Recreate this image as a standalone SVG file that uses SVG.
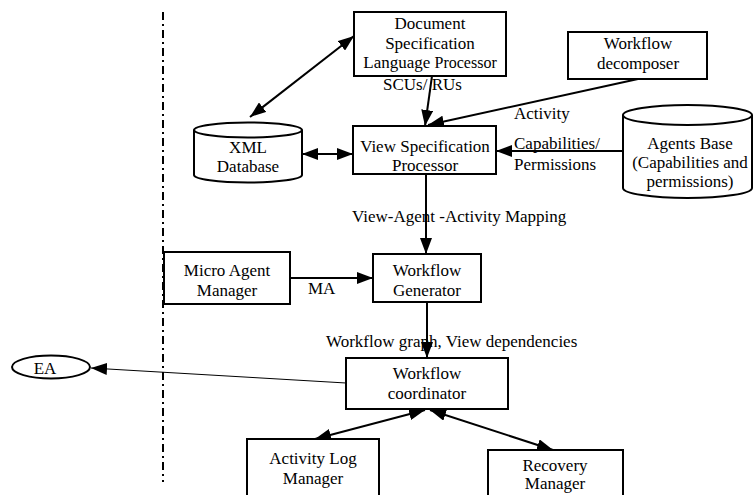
<svg xmlns="http://www.w3.org/2000/svg" width="755" height="495" viewBox="0 0 755 495">
<defs>
<style>
.box{fill:#fff;stroke:#000;stroke-width:2}
.cyl{fill:#fff;stroke:#000;stroke-width:2}
text{font-family:"Liberation Serif","Times New Roman",serif;font-size:17px;fill:#000}
.c{text-anchor:middle}
.ln{fill:none;stroke:#000;stroke-width:2}
.thin{fill:none;stroke:#000;stroke-width:1}
</style>
<marker id="ah" markerUnits="userSpaceOnUse" viewBox="0 0 16 12" refX="16" refY="6" markerWidth="16" markerHeight="12" orient="auto-start-reverse">
<path d="M0,0 L16,6 L0,12 Z" fill="#000"/>
</marker>
</defs>
<rect width="755" height="495" fill="#fff"/>
<line x1="163" y1="12" x2="163" y2="482" stroke="#000" stroke-width="2" stroke-dasharray="8 4 2 4"/>

<g id="connectors">
<line class="ln" x1="250" y1="117" x2="354" y2="36" marker-start="url(#ah)" marker-end="url(#ah)"/>
<line class="ln" x1="302" y1="154" x2="353" y2="154" marker-start="url(#ah)" marker-end="url(#ah)"/>
<line class="ln" x1="432" y1="76" x2="425" y2="126" marker-end="url(#ah)"/>
<line class="ln" x1="638" y1="79" x2="428" y2="125" marker-end="url(#ah)"/>
<line class="ln" x1="623" y1="151" x2="496" y2="151" marker-end="url(#ah)"/>
<line class="ln" x1="426" y1="174" x2="426" y2="254" marker-end="url(#ah)"/>
<line class="ln" x1="290" y1="278" x2="373" y2="278" marker-end="url(#ah)"/>
<line class="ln" x1="427" y1="302" x2="427" y2="358" marker-end="url(#ah)"/>
<line class="thin" x1="346" y1="383" x2="91" y2="368" marker-end="url(#ah)"/>
<line class="ln" x1="315" y1="439" x2="425" y2="410" marker-start="url(#ah)" marker-end="url(#ah)"/>
<line class="ln" x1="553" y1="450" x2="430" y2="410" marker-start="url(#ah)" marker-end="url(#ah)"/>
<text x="383" y="90">SCUs/ RUs</text>
<text x="514" y="119">Activity</text>
<text x="514" y="149">Capabilities/</text>
<text x="514" y="170">Permissions</text>
<text x="352" y="222">View-Agent -Activity Mapping</text>
<text x="308" y="294">MA</text>
<text x="326" y="347">Workflow graph, View dependencies</text>
</g>

<g id="doc-spec">
<rect class="box" x="354" y="12" width="152" height="64"/>
<text class="c" x="430" y="29">Document</text>
<text class="c" x="430" y="49">Specification</text>
<text class="c" x="430" y="68">Language <tspan font-size="16">Processor</tspan></text>
</g>

<g id="workflow-decomposer">
<rect class="box" x="568" y="32" width="139" height="47"/>
<text class="c" x="638" y="49">Workflow</text>
<text class="c" x="638" y="69">decomposer</text>
</g>

<g id="xml-db">
<path class="cyl" d="M194,130 L194,175 A54,7.5 0 0 0 302,175 L302,130 A54,7.5 0 0 0 194,130 Z"/>
<path class="cyl" d="M194,130 A54,7.5 0 0 0 302,130" fill="none"/>
<text class="c" x="248" y="153">XML</text>
<text class="c" x="248" y="172">Database</text>
</g>

<g id="view-spec">
<rect class="box" x="353" y="126" width="143" height="48"/>
<text class="c" x="425" y="152">View Specification</text>
<text class="c" x="425" y="171">Processor</text>
</g>

<g id="agents-base">
<path class="cyl" d="M623,115 L623,188 A64.5,10 0 0 0 752,188 L752,115 A64.5,10 0 0 0 623,115 Z"/>
<path class="cyl" d="M623,115 A64.5,10 0 0 0 752,115" fill="none"/>
<text class="c" x="690" y="149">Agents Base</text>
<text class="c" x="690" y="168" font-size="17.5">(Capabilities and</text>
<text class="c" x="690" y="187">permissions)</text>
</g>

<g id="micro-agent-manager">
<rect class="box" x="164" y="252" width="126" height="52"/>
<text class="c" x="227" y="276">Micro Agent</text>
<text class="c" x="227" y="296">Manager</text>
</g>

<g id="workflow-generator">
<rect class="box" x="373" y="254" width="108" height="48"/>
<text class="c" x="427" y="276">Workflow</text>
<text class="c" x="427" y="296">Generator</text>
</g>

<g id="workflow-coordinator">
<rect class="box" x="346" y="358" width="162" height="51"/>
<text class="c" x="427" y="379">Workflow</text>
<text class="c" x="427" y="399">coordinator</text>
</g>

<g id="ea">
<ellipse cx="51" cy="367" rx="39" ry="11.5" fill="#fff" stroke="#000" stroke-width="2"/>
<text class="c" x="45" y="374" font-size="14">EA</text>
</g>

<g id="activity-log-manager">
<rect class="box" x="247" y="439" width="132" height="60"/>
<text class="c" x="313" y="464">Activity Log</text>
<text class="c" x="313" y="484">Manager</text>
</g>

<g id="recovery-manager">
<rect class="box" x="488" y="450" width="135" height="50"/>
<text class="c" x="555" y="471">Recovery</text>
<text class="c" x="555" y="489">Manager</text>
</g>
</svg>
